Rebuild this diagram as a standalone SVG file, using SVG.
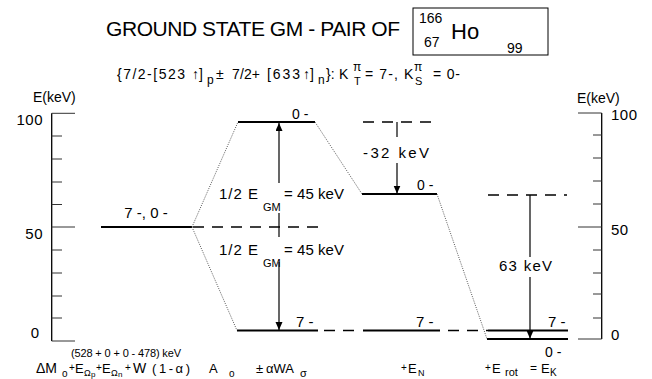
<svg xmlns="http://www.w3.org/2000/svg" width="652" height="379" viewBox="0 0 652 379" xml:space="preserve">
<defs>
<style>
text{font-family:"Liberation Sans",Arial,sans-serif;fill:#000}
.lvl{stroke:#000;stroke-width:2;fill:none}
.dash{stroke:#000;stroke-width:1.6;stroke-dasharray:11 8;fill:none}
.dot{stroke:#444;stroke-width:0.9;stroke-dasharray:1 1.3;fill:none}
.arr{stroke:#000;stroke-width:1.2;fill:none}
.ax{stroke:#000;stroke-width:1.3;fill:none}
.tk{stroke:#333;stroke-width:1;fill:none}
.t15{font-size:15px}
.t14{font-size:14px}
.t13{font-size:13px}
.t12{font-size:12px}
.t11{font-size:11px}
.t10{font-size:10px}
.t9{font-size:9px}
.t8{font-size:8px}
.up{font-weight:bold}
</style>
<marker id="ah" markerUnits="userSpaceOnUse" markerWidth="8" markerHeight="9" refX="8" refY="3.5" orient="auto">
<path d="M0,0 L8,3.5 L0,7 z" fill="#000"/>
</marker>
</defs>
<rect width="652" height="379" fill="#fff"/>

<g id="title">
<text x="106" y="36" font-size="21" textLength="294" lengthAdjust="spacing">GROUND STATE GM - PAIR OF</text>
<rect x="413" y="8" width="135" height="47" fill="none" stroke="#000" stroke-width="1"/>
<text x="419" y="23" class="t14">166</text>
<text x="451" y="39" font-size="22">Ho</text>
<text x="424" y="47" class="t14">67</text>
<text x="507" y="53" class="t14">99</text>
</g>

<g id="subtitle" class="t14">
<text x="117" y="79" textLength="68" lengthAdjust="spacing">{7/2-[523</text>
<text x="192" y="79"><tspan class="up">↑</tspan>]</text>
<text x="207" y="84" class="t12">p</text>
<text x="216" y="79">±</text>
<text x="232" y="79" textLength="28" lengthAdjust="spacing">7/2+</text>
<text x="267" y="79" textLength="33" lengthAdjust="spacing">[633</text>
<text x="303" y="79"><tspan class="up">↑</tspan>]</text>
<text x="318" y="84" class="t12">n</text>
<text x="326" y="79">}:</text>
<text x="339" y="79">K</text>
<text x="353" y="71" class="t12">π</text>
<text x="354" y="85" class="t11">T</text>
<text x="365" y="79" textLength="33" lengthAdjust="spacing">= 7-,</text>
<text x="404" y="79">K</text>
<text x="414" y="71" class="t12">π</text>
<text x="415" y="85" class="t11">S</text>
<text x="433" y="79" textLength="27" lengthAdjust="spacing">=  0-</text>
</g>

<g id="axis-left">
<path class="ax" d="M51.7,113.3 V341"/>
<path class="tk" d="M51.7,113.3 H75 M51.7,227 H75 M51.7,341 H75 M51.7,136 H62 M51.7,159 H62 M51.7,182 H62 M51.7,204.5 H62 M51.7,250 H62 M51.7,273 H62 M51.7,296 H62 M51.7,318 H62"/>
<text x="33" y="102" class="t14">E(keV)</text>
<text x="43" y="125" class="t15" text-anchor="end" letter-spacing="0.5">100</text>
<text x="43" y="239" class="t15" text-anchor="end" letter-spacing="0.5">50</text>
<text x="39" y="338" class="t15" text-anchor="end">0</text>
</g>

<g id="axis-right">
<path class="ax" d="M601.7,113 V339"/>
<path class="tk" d="M578,113 H601.7 M578,227 H601.7 M578,339 H601.7 M593,135 H601.7 M593,158 H601.7 M593,181 H601.7 M593,204 H601.7 M593,250 H601.7 M593,273 H601.7 M593,294 H601.7 M593,318 H601.7"/>
<text x="577" y="103" class="t14">E(keV)</text>
<text x="611" y="120" class="t15" letter-spacing="0.5">100</text>
<text x="611" y="235" class="t15" letter-spacing="0.5">50</text>
<text x="611" y="340" class="t15">0</text>
</g>

<g id="level-col1">
<path class="lvl" d="M101,227 H192"/>
<text x="146" y="218" class="t15" text-anchor="middle">7 -, 0 -</text>
</g>

<g id="level-col2-top">
<path class="lvl" d="M238,122 H315"/>
<text x="292" y="119" class="t14">0 -</text>
</g>
<g id="level-col2-mid">
<path class="dash" d="M193,227 H318"/>
</g>
<g id="level-col2-bottom">
<path class="lvl" d="M237,330.5 H318"/>
<text x="296" y="327" class="t15">7 -</text>
</g>

<g id="level-col3-top">
<path class="dash" d="M363,122 H438"/>
</g>
<g id="level-col3-mid">
<path class="lvl" d="M362,194 H437"/>
<text x="417" y="190" class="t14">0 -</text>
</g>
<g id="level-col3-bottom">
<path class="lvl" d="M363,330.5 H440"/>
<text x="416" y="327" class="t15">7 -</text>
</g>

<g id="level-col4-top">
<path class="dash" d="M488,195 H567"/>
</g>
<g id="level-col4-7">
<path class="lvl" d="M488,330.5 H568"/>
<text x="548" y="327" class="t15">7 -</text>
</g>
<g id="level-col4-0">
<path class="lvl" d="M487,339 H568"/>
<text x="545" y="357" class="t14">0 -</text>
</g>

<g id="connectors">
<path class="dot" d="M192,227 L238,122"/>
<path class="dot" d="M192,227 L237,330.5"/>
<path class="dot" d="M315,122 L362,194"/>
<path class="dot" d="M437,194 L487,339"/>
<path class="dash" d="M324,330.5 H362"/>
<path class="dash" d="M448,330.5 H488"/>
<path class="arr" d="M279,183 V123" marker-end="url(#ah)"/>
<path class="arr" d="M279,213 V237"/>
<path class="arr" d="M279,262 V330" marker-end="url(#ah)"/>
<path class="arr" d="M397,122 V137"/>
<path class="arr" d="M397,163 V193.5" marker-end="url(#ah)"/>
<path class="arr" d="M530,195 V257"/>
<path class="arr" d="M530,277 V338.5" marker-end="url(#ah)"/>
</g>

<g id="label-egm1" class="t15">
<text x="219" y="199" textLength="39" lengthAdjust="spacing">1/2  E</text>
<text x="263" y="211" class="t11">GM</text>
<text x="284" y="199" textLength="60" lengthAdjust="spacing">=  45  keV</text>
</g>
<g id="label-egm2" class="t15">
<text x="219" y="255" textLength="39" lengthAdjust="spacing">1/2  E</text>
<text x="263" y="267" class="t11">GM</text>
<text x="284" y="255" textLength="60" lengthAdjust="spacing">=  45  keV</text>
</g>
<g id="label-32">
<text x="363" y="158" class="t15" textLength="66" lengthAdjust="spacing">-32  keV</text>
</g>
<g id="label-63">
<text x="499" y="271" class="t15" textLength="53" lengthAdjust="spacing">63  keV</text>
</g>

<g id="bottom-labels">
<text x="71" y="357" class="t11" textLength="110" lengthAdjust="spacing">(528 + 0 + 0 - 478) keV</text>
<text x="36" y="373" class="t14">ΔM</text>
<text x="62" y="377" class="t10">o</text>
<text x="69" y="371" class="t10">+</text>
<text x="75" y="373" class="t13">E</text>
<text x="84" y="376" class="t9">Ω</text>
<text x="91" y="377" class="t8">p</text>
<text x="96" y="371" class="t10">+</text>
<text x="102" y="373" class="t13">E</text>
<text x="111" y="376" class="t9">Ω</text>
<text x="118" y="377" class="t8">n</text>
<text x="125" y="371" class="t10">+</text>
<text x="133" y="373" class="t14">W</text>
<text x="152" y="373" class="t13" textLength="38" lengthAdjust="spacing">(1-α)</text>
<text x="209" y="373" class="t13">A</text>
<text x="229" y="377" class="t10">o</text>
<text x="256" y="373" class="t13">±</text>
<text x="266" y="373" class="t13" textLength="28" lengthAdjust="spacing">αWA</text>
<text x="300" y="377" class="t11">σ</text>
<text x="401" y="371" class="t10">+</text>
<text x="408" y="373" class="t13">E</text>
<text x="418" y="376" class="t9">N</text>
<text x="485" y="371" class="t10">+</text>
<text x="492" y="373" class="t13">E</text>
<text x="505" y="376" class="t11">rot</text>
<text x="530" y="372" class="t12">=</text>
<text x="541" y="373" class="t13">E</text>
<text x="550" y="376" class="t10">K</text>
</g>
</svg>
